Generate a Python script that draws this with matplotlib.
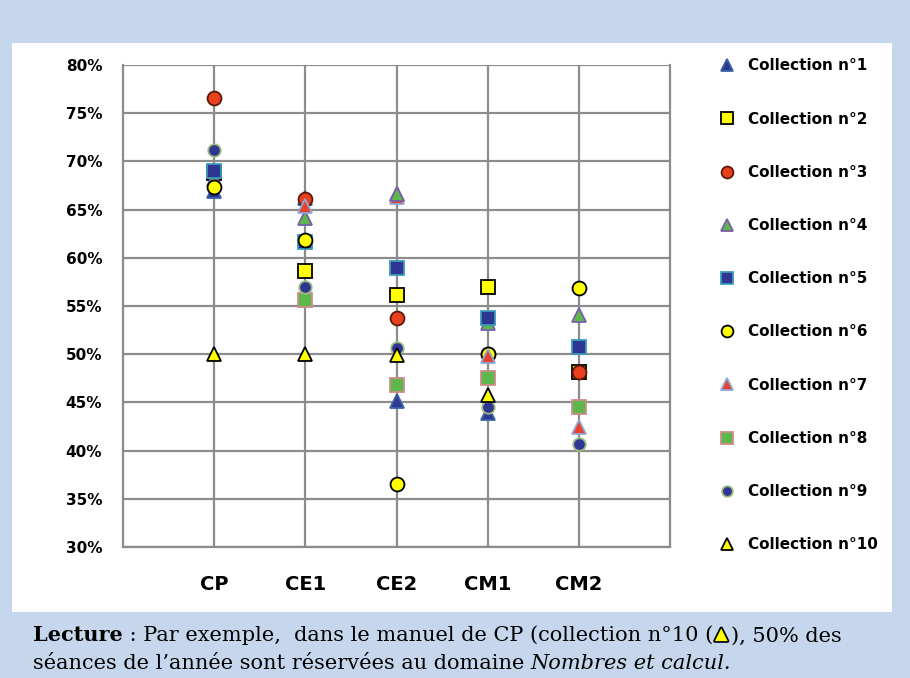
import numpy as np
import matplotlib.pyplot as plt
import matplotlib.patheffects as pe
from matplotlib.patches import Rectangle

# ── Data (share of sessions in "Nombres et calcul") ─────────────────────
categories = ['CP', 'CE1', 'CE2', 'CM1', 'CM2']
nan = np.nan

col1 = [66.9, 66.2, 45.1, 43.9, nan]
col2 = [68.8, 58.6, 56.1, 57.0, 48.2]
col3 = [76.6, 66.1, 53.8, 50.0, 48.2]
col4 = [68.2, 64.1, 66.6, 53.2, 54.1]
col5 = [69.0, 61.6, 58.9, 53.8, 50.7]
col6 = [67.3, 61.8, 36.5, 50.0, 56.9]
col7 = [nan, 65.4, 66.3, 49.8, 42.4]
col8 = [nan, 55.6, 46.8, 47.5, 44.5]
col9 = [71.2, 57.0, 50.6, 44.5, 40.7]
col10 = [50.0, 50.0, 49.9, 45.8, nan]

series = [col1, col2, col3, col4, col5, col6, col7, col8, col9, col10]
labels = ['Collection n°%d' % i for i in range(1, 11)]

# marker, face colour, edge colour, size
styles = [
    ('^', '#2b3a8f', '#3a62a7', 10),
    ('s', '#ffff00', '#000000', 10),
    ('o', '#e8401c', '#5a1a0a', 10),
    ('^', '#5cb84a', '#7a5ea8', 10),
    ('s', '#2e3592', '#3a9cb8', 10),
    ('o', '#ffff00', '#000000', 10),
    ('^', '#e8402a', '#8ea8d8', 10),
    ('s', '#5cb84a', '#d08c8c', 10),
    ('o', '#2e3592', '#9bbb80', 9),
    ('^', '#ffff00', '#000000', 10),
]

# ── Figure ──────────────────────────────────────────────────────────────
fig = plt.figure(figsize=(9.1, 6.78), dpi=100)
fig.patch.set_facecolor('#c6d6ec')
fig.add_artist(Rectangle((0.0132, 0.0973), 0.9670, 0.8393,
                         transform=fig.transFigure, facecolor='white',
                         edgecolor='none', zorder=0))

ax = fig.add_axes([0.1352, 0.1932, 0.6011, 0.7109])
ax.set_facecolor('white')

x = np.arange(1, len(categories) + 1)
handles = []
for i, (vals, lab, (m, fc, ec, ms)) in enumerate(zip(series, labels, styles)):
    h, = ax.plot(x, vals, linestyle='none', marker=m, markersize=ms,
                 markerfacecolor=fc, markeredgecolor=ec, markeredgewidth=1.3,
                 label=lab, zorder=3 + i * 0.01, clip_on=False)
    handles.append(h)

# in CE2 collection 4 sits on top of collection 7
m, fc, ec, ms = styles[3]
ax.plot(x[2], col4[2], linestyle='none', marker=m, markersize=ms,
        markerfacecolor=fc, markeredgecolor=ec, markeredgewidth=1.3,
        zorder=3.5, clip_on=False)

ax.set_xlim(0, 6)
ax.set_ylim(30, 80)
ax.set_yticks(range(30, 81, 5))
ax.set_yticklabels(['%d%%' % v for v in range(30, 81, 5)],
                   fontsize=11, fontweight='bold')
ax.set_xticks(x)
ax.set_xticklabels(categories, fontsize=14, fontweight='bold')
ax.tick_params(axis='y', length=0, pad=15)
ax.tick_params(axis='x', length=0, pad=20)

grid_c = '#8c8c8c'
ax.grid(True, color=grid_c, linewidth=1.6)
ax.set_axisbelow(True)
for s in ['left', 'bottom', 'right']:
    ax.spines[s].set_color(grid_c)
    ax.spines[s].set_linewidth(1.6)
ax.spines['top'].set_visible(False)

fig.legend(handles=handles, loc='upper left',
           bbox_to_anchor=(0.775, 0.934), frameon=False,
           prop={'weight': 'bold', 'size': 11}, markerscale=0.85,
           labelspacing=2.5, handlelength=1.0, handletextpad=0.9)

# ── Caption ─────────────────────────────────────────────────────────────
fs = 15
t1 = fig.text(0.036, 0.054, 'Lecture', fontsize=fs, fontweight='bold',
              family='DejaVu Serif', va='baseline')
t2 = ax.annotate(' : Par exemple,  dans le manuel de CP (collection n°10 (',
                 xy=(1, 0), xycoords=t1, va='bottom', ha='left',
                 fontsize=fs, family='DejaVu Serif', annotation_clip=False)
ax.annotate('▲', xy=(1, 0.12), xycoords=t2, xytext=(1.5, 0),
            textcoords='offset points', va='bottom', ha='left',
            fontsize=12, color='#ffff00', annotation_clip=False,
            path_effects=[pe.withStroke(linewidth=2.5, foreground='black')])
ax.annotate('), 50% des', xy=(1, 0), xycoords=t2, xytext=(13, 0),
            textcoords='offset points', va='bottom', ha='left',
            fontsize=fs, family='DejaVu Serif', annotation_clip=False)
t5 = fig.text(0.036, 0.014,
              "séances de l’année sont réservées au domaine ",
              fontsize=fs, family='DejaVu Serif', va='baseline')
ax.annotate('Nombres et calcul.', xy=(1, 0), xycoords=t5, va='bottom',
            ha='left', fontsize=fs, family='DejaVu Serif', style='italic',
            annotation_clip=False)

fig.savefig('out.png', dpi=100, facecolor=fig.get_facecolor())
